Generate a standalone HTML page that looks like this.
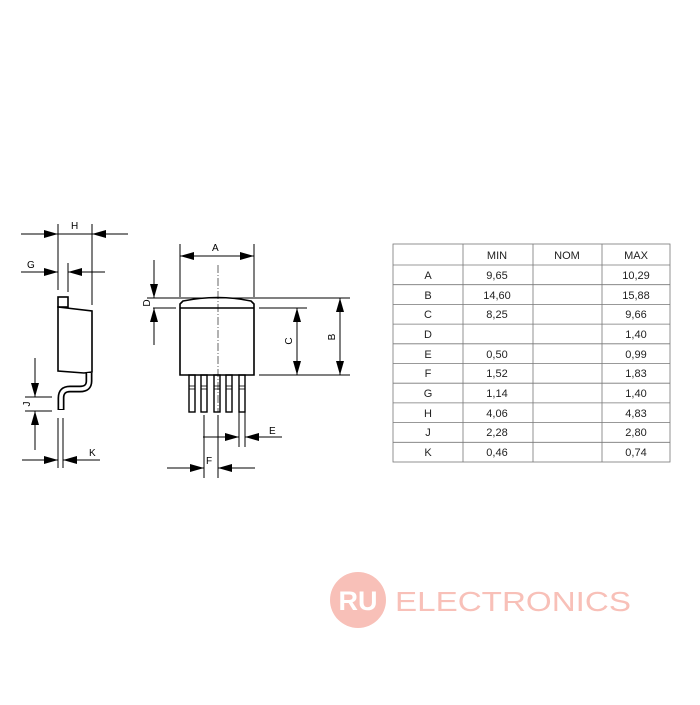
<!DOCTYPE html>
<html><head><style>
body{margin:0;background:#fff;width:700px;height:700px;overflow:hidden}
</style></head><body>
<svg width="700" height="700" viewBox="0 0 700 700" xmlns="http://www.w3.org/2000/svg" font-family="Liberation Sans, DejaVu Sans, sans-serif">
<defs>
<marker id="ar" viewBox="0 0 14 8" refX="14" refY="4" markerWidth="14" markerHeight="8" markerUnits="userSpaceOnUse" orient="auto"><path d="M0,0 L14,4 L0,8 Z" fill="#000"/></marker>
</defs>
<g stroke="#000" fill="none" stroke-width="1">
<!-- side view -->
<rect x="58" y="297" width="10" height="10" stroke-width="1.6"/>
<path d="M58,307 L92,311 L92,372 L84,373 L58,371 Z" stroke-width="1.6"/>
<path d="M89,373 L89,381 Q89,389 80,389 L70,389 Q61,389 61,398 L61,410" stroke-width="7" stroke-linecap="butt"/>
<path d="M89,373 L89,381 Q89,389 80,389 L70,389 Q61,389 61,398 L61,409" stroke="#fff" stroke-width="3.6"/>
<!-- H -->
<line x1="58" y1="224" x2="58" y2="290"/><line x1="92" y1="224" x2="92" y2="305"/>
<line x1="21" y1="234" x2="58" y2="234" marker-end="url(#ar)"/>
<line x1="128" y1="234" x2="92" y2="234" marker-end="url(#ar)"/>
<line x1="58" y1="234" x2="92" y2="234"/>
<!-- G -->
<line x1="68" y1="263" x2="68" y2="292"/>
<line x1="21" y1="272" x2="58" y2="272" marker-end="url(#ar)"/>
<line x1="105" y1="272" x2="68" y2="272" marker-end="url(#ar)"/>
<!-- J -->
<line x1="25" y1="397" x2="52" y2="397"/><line x1="25" y1="411" x2="52" y2="411"/>
<line x1="35" y1="358" x2="35" y2="397" marker-end="url(#ar)"/>
<line x1="35" y1="450" x2="35" y2="411" marker-end="url(#ar)"/>
<!-- K -->
<line x1="58" y1="418" x2="58" y2="468"/><line x1="63" y1="418" x2="63" y2="468"/>
<line x1="22" y1="460" x2="58" y2="460" marker-end="url(#ar)"/>
<line x1="100" y1="460" x2="63" y2="460" marker-end="url(#ar)"/>

<!-- front view -->
<path d="M183,301 Q218,294 251,301 L254,304 L254,375 L180,375 L180,304 Z" stroke-width="1.6"/>
<line x1="180" y1="308" x2="254" y2="308" stroke-width="1.6"/>
<g stroke-width="1.4">
<rect x="189" y="375" width="6" height="37"/><rect x="201" y="375" width="6" height="37"/><rect x="214" y="375" width="6" height="37"/><rect x="226" y="375" width="6" height="37"/><rect x="239" y="375" width="6" height="37"/>
</g>
<g stroke-width="0.8">
<line x1="189" y1="386" x2="195" y2="386"/><line x1="189" y1="389" x2="195" y2="389"/>
<line x1="201" y1="386" x2="207" y2="386"/><line x1="201" y1="389" x2="207" y2="389"/>
<line x1="214" y1="386" x2="220" y2="386"/><line x1="214" y1="389" x2="220" y2="389"/>
<line x1="226" y1="386" x2="232" y2="386"/><line x1="226" y1="389" x2="232" y2="389"/>
<line x1="239" y1="386" x2="245" y2="386"/><line x1="239" y1="389" x2="245" y2="389"/>
</g>
<line x1="218" y1="265" x2="218" y2="412" stroke-width="0.6" stroke-dasharray="8,2,1,2"/>
<!-- A -->
<line x1="180" y1="244" x2="180" y2="297"/><line x1="254" y1="244" x2="254" y2="297"/>
<line x1="200" y1="256" x2="180" y2="256" marker-end="url(#ar)"/>
<line x1="234" y1="256" x2="254" y2="256" marker-end="url(#ar)"/>
<line x1="180" y1="256" x2="254" y2="256"/>
<!-- D -->
<line x1="147" y1="298" x2="350" y2="298"/><line x1="153" y1="308" x2="176" y2="308"/>
<line x1="154" y1="260" x2="154" y2="298" marker-end="url(#ar)"/>
<line x1="154" y1="345" x2="154" y2="308" marker-end="url(#ar)"/>
<!-- C,B -->
<line x1="259" y1="308" x2="307" y2="308"/><line x1="259" y1="375" x2="350" y2="375"/>
<line x1="297" y1="340" x2="297" y2="308" marker-end="url(#ar)"/>
<line x1="297" y1="340" x2="297" y2="375" marker-end="url(#ar)"/>
<line x1="340" y1="335" x2="340" y2="298" marker-end="url(#ar)"/>
<line x1="340" y1="335" x2="340" y2="375" marker-end="url(#ar)"/>
<!-- E -->
<line x1="239" y1="412" x2="239" y2="447"/><line x1="245" y1="412" x2="245" y2="447"/>
<line x1="203" y1="437" x2="239" y2="437" marker-end="url(#ar)"/>
<line x1="282" y1="437" x2="245" y2="437" marker-end="url(#ar)"/>
<!-- F -->
<line x1="204" y1="415" x2="204" y2="478"/><line x1="218" y1="415" x2="218" y2="478"/>
<line x1="167" y1="468" x2="204" y2="468" marker-end="url(#ar)"/>
<line x1="255" y1="468" x2="218" y2="468" marker-end="url(#ar)"/>
</g>
<g font-size="10" fill="#000">
<text x="71" y="229">H</text><text x="27" y="268">G</text><text x="89" y="456">K</text>
<text x="212" y="251">A</text><text x="269" y="434">E</text><text x="206" y="464">F</text>
<text transform="translate(30,404) rotate(-90)" text-anchor="middle">J</text>
<text transform="translate(150,303) rotate(-90)" text-anchor="middle">D</text>
<text transform="translate(292,341) rotate(-90)" text-anchor="middle">C</text>
<text transform="translate(335,337) rotate(-90)" text-anchor="middle">B</text>
</g>
<!-- table -->
<g stroke="#777" stroke-width="0.8">
<rect x="393" y="244" width="277" height="218" fill="none"/>
<line x1="463" y1="244" x2="463" y2="462"/><line x1="533" y1="244" x2="533" y2="462"/><line x1="602" y1="244" x2="602" y2="462"/>
<line x1="393" y1="265" x2="670" y2="265"/><line x1="393" y1="284.7" x2="670" y2="284.7"/><line x1="393" y1="304.4" x2="670" y2="304.4"/><line x1="393" y1="324.1" x2="670" y2="324.1"/><line x1="393" y1="343.8" x2="670" y2="343.8"/><line x1="393" y1="363.5" x2="670" y2="363.5"/><line x1="393" y1="383.2" x2="670" y2="383.2"/><line x1="393" y1="402.9" x2="670" y2="402.9"/><line x1="393" y1="422.6" x2="670" y2="422.6"/><line x1="393" y1="442.3" x2="670" y2="442.3"/>
</g>
<g font-size="11" fill="#222" text-anchor="middle">
<text x="497" y="259">MIN</text><text x="567" y="259">NOM</text><text x="636" y="259">MAX</text>
<text x="428" y="279">A</text><text x="497" y="279">9,65</text><text x="636" y="279">10,29</text>
<text x="428" y="299">B</text><text x="497" y="299">14,60</text><text x="636" y="299">15,88</text>
<text x="428" y="318">C</text><text x="497" y="318">8,25</text><text x="636" y="318">9,66</text>
<text x="428" y="338">D</text><text x="636" y="338">1,40</text>
<text x="428" y="358">E</text><text x="497" y="358">0,50</text><text x="636" y="358">0,99</text>
<text x="428" y="377">F</text><text x="497" y="377">1,52</text><text x="636" y="377">1,83</text>
<text x="428" y="397">G</text><text x="497" y="397">1,14</text><text x="636" y="397">1,40</text>
<text x="428" y="417">H</text><text x="497" y="417">4,06</text><text x="636" y="417">4,83</text>
<text x="428" y="436">J</text><text x="497" y="436">2,28</text><text x="636" y="436">2,80</text>
<text x="428" y="456">K</text><text x="497" y="456">0,46</text><text x="636" y="456">0,74</text>
</g>
<!-- logo -->
<circle cx="358" cy="600" r="28" fill="#f8c0b8"/>
<text x="358" y="610" font-size="27" fill="#fff" text-anchor="middle" font-weight="bold">RU</text>
<text x="395" y="611" font-size="28" fill="#f8c0b8" textLength="236" lengthAdjust="spacingAndGlyphs">ELECTRONICS</text>
</svg>
</body></html>
